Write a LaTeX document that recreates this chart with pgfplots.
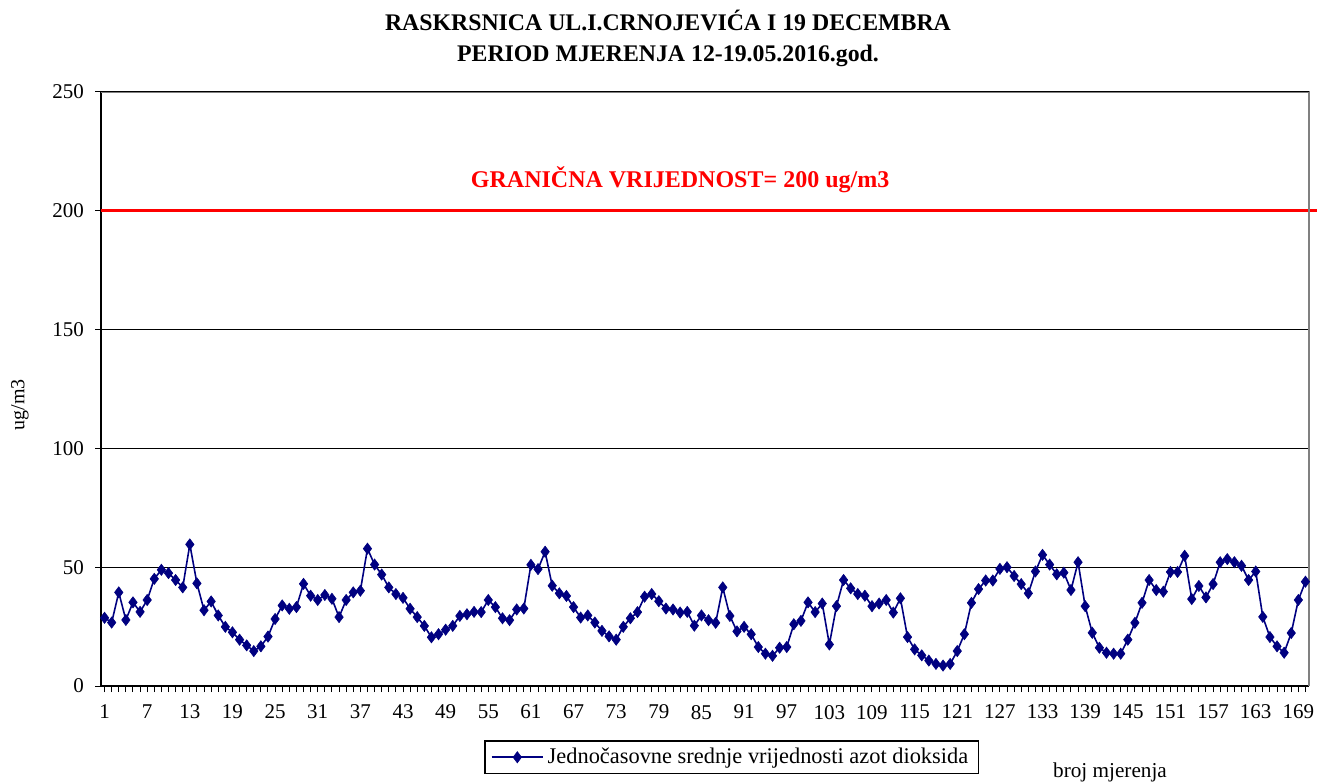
\documentclass[border=0pt]{standalone}
\usepackage{fontspec}
\setmainfont{Liberation Serif}
\usepackage{pgfplots}
\usepackage{pgfplotstable}
\pgfplotsset{compat=1.18}
\definecolor{navyline}{RGB}{0,0,128}
\definecolor{framegray}{RGB}{128,128,128}

\pgfplotstableread{
n v
1 28.7
2 26.7
3 39.4
4 27.8
5 35.2
6 31.2
7 36.2
8 45.1
9 48.9
10 47.5
11 44.6
12 41.5
13 59.6
14 43.2
15 31.9
16 35.6
17 29.7
18 24.9
19 22.6
20 19.5
21 17.1
22 14.7
23 16.7
24 20.8
25 28.2
26 33.9
27 32.5
28 33.2
29 43.0
30 38.0
31 36.2
32 38.3
33 36.7
34 29.0
35 36.2
36 39.4
37 40.1
38 57.8
39 51.1
40 46.9
41 41.5
42 38.7
43 37.1
44 32.5
45 29.0
46 25.3
47 20.5
48 21.8
49 23.7
50 25.3
51 29.5
52 30.2
53 31.2
54 31.1
55 36.2
56 33.2
57 28.5
58 27.7
59 32.2
60 32.6
61 51.0
62 49.2
63 56.5
64 42.2
65 39.0
66 37.9
67 33.2
68 28.8
69 29.7
70 26.7
71 23.2
72 20.9
73 19.5
74 24.9
75 28.5
76 31.1
77 37.6
78 38.7
79 35.7
80 32.6
81 32.2
82 30.9
83 31.2
84 25.4
85 29.7
86 27.7
87 26.6
88 41.5
89 29.5
90 23.0
91 24.9
92 21.8
93 16.4
94 13.6
95 12.7
96 16.1
97 16.4
98 26.0
99 27.4
100 35.2
101 31.1
102 34.7
103 17.5
104 33.6
105 44.6
106 41.1
107 38.7
108 38.0
109 33.6
110 34.7
111 36.2
112 30.9
113 36.9
114 20.6
115 15.4
116 12.9
117 10.7
118 9.3
119 8.6
120 9.3
121 14.7
122 21.8
123 35.0
124 40.8
125 44.4
126 44.4
127 49.3
128 50.0
129 46.3
130 42.9
131 39.0
132 48.2
133 55.2
134 51.1
135 47.0
136 47.7
137 40.4
138 52.1
139 33.6
140 22.4
141 16.1
142 14.0
143 13.6
144 13.6
145 19.5
146 26.6
147 35.0
148 44.6
149 40.4
150 39.7
151 48.0
152 48.0
153 54.8
154 36.6
155 42.1
156 37.3
157 42.9
158 52.1
159 53.4
160 52.1
161 50.6
162 44.6
163 48.2
164 29.1
165 20.6
166 16.7
167 14.0
168 22.3
169 36.2
170 43.9
}\notwo

\begin{document}
\begin{tikzpicture}
\useasboundingbox (0,0) rectangle (658.5pt,391pt);
% title
\node[font=\fontsize{11.9}{14}\selectfont\bfseries] at (334pt,381pt) {RASKRSNICA UL.I.CRNOJEVIĆA I 19 DECEMBRA};
\node[font=\fontsize{11.9}{14}\selectfont\bfseries] at (334pt,363pt) {PERIOD MJERENJA 12-19.05.2016.god.};
% y label
\node[rotate=90, font=\fontsize{10}{12}\selectfont] at (10pt,188.5pt) {ug/m3};
% x label
\node[font=\fontsize{10.6}{12}\selectfont, anchor=base] at (555pt,2.5pt) {broj mjerenja};

\begin{axis}[
    at={(50.5pt,48pt)}, anchor=south west,
    scale only axis, width=604pt, height=297pt,
    xmin=0.5, xmax=170.5, ymin=0, ymax=250,
    axis x line*=bottom, axis y line*=left,
    axis line style={black, line width=0.6pt},
    xtick={1,7,...,169},
    minor xtick={1,...,170},
    ytick={0,50,...,250},
    tick align=outside,
    major tick length=3pt, minor tick length=3pt,
    tick style={black, line width=0.5pt},
    ymajorgrids=true,
    grid style={black, line width=0.5pt},
    ticklabel style={font=\fontsize{10.5}{12}\selectfont},
    /pgf/number format/assume math mode=true,
    yticklabel style={xshift=-2pt},
    xticklabel style={yshift=-3pt},
    clip=false,
    legend style={at={(0.522,-0.12)}, anchor=center, draw=black, line width=0.6pt,
        font=\fontsize{11.2}{13}\selectfont, inner xsep=3pt, inner ysep=1.5pt},
    legend image code/.code={\draw[#1, mark repeat=2, mark phase=2]
        plot coordinates {(0cm,0cm) (0.45cm,0cm) (0.9cm,0cm)};},
    legend cell align=left,
]
\addplot[navyline, line width=0.8pt, mark=diamond*, mark size=2.8pt,
    mark options={fill=navyline, draw=navyline, line width=0.3pt}]
    table[x=n, y=v] {\notwo};
\addlegendentry{Jednočasovne srednje vrijednosti azot dioksida}
\addplot[red, line width=1.6pt, forget plot] coordinates {(0.5,200) (171.6,200)};
\draw[framegray, line width=0.6pt] (axis cs:0.5,250) -- (axis cs:170.5,250) -- (axis cs:170.5,0);
\draw[black, line width=0.5pt] (axis cs:0.5,250) -- (axis cs:170.5,250);
\node[red, font=\fontsize{12}{14}\selectfont\bfseries] at (axis cs:82,213) {GRANIČNA VRIJEDNOST= 200 ug/m3};
\end{axis}
\end{tikzpicture}
\end{document}
